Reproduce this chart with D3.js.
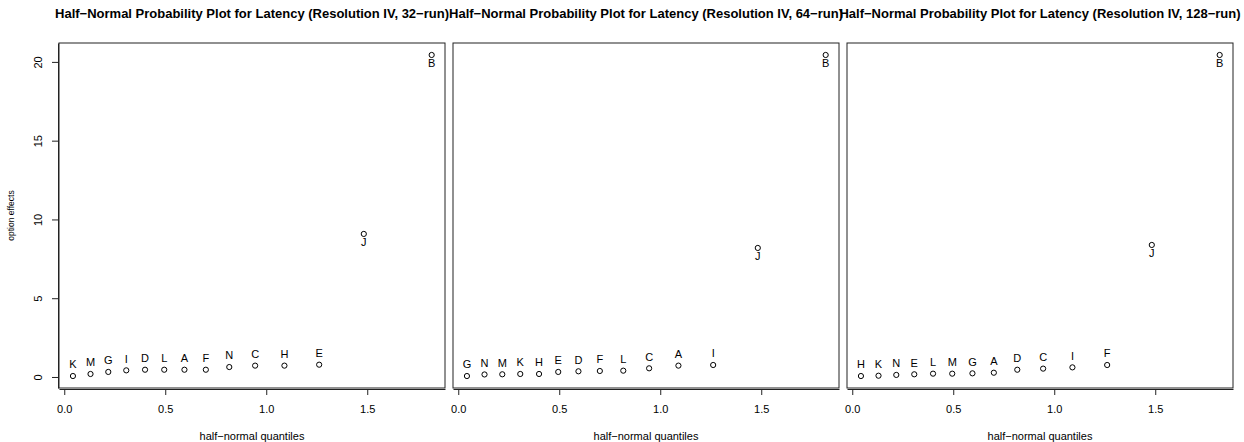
<!DOCTYPE html>
<html>
<head>
<meta charset="utf-8">
<script src="https://cdn.jsdelivr.net/npm/d3@7"></script>
<style>
  html, body { margin: 0; padding: 0; background: #fff; }
  svg { display: block; font-family: "Liberation Sans", Arial, Helvetica, sans-serif; }
</style>
</head>
<body>
<svg id="chart" width="1244" height="442"></svg>
<script>
// ---- data ----
const quantiles = [0.043, 0.130, 0.218, 0.307, 0.400, 0.495, 0.595, 0.701, 0.817, 0.945, 1.090, 1.262, 1.483, 1.819];

const titles = [
  "Half\u2212Normal Probability Plot for Latency (Resolution IV, 32\u2212run)",
  "Half\u2212Normal Probability Plot for Latency (Resolution IV, 64\u2212run)",
  "Half\u2212Normal Probability Plot for Latency (Resolution IV, 128\u2212run)"
];

const effects32 = ["K","M","G","I","D","L","A","F","N","C","H","E","J","B"];
const values32  = [0.06, 0.19, 0.32, 0.42, 0.46, 0.46, 0.46, 0.46, 0.63, 0.72, 0.72, 0.78, 9.08, 20.44];

const effects64 = ["G","N","M","K","H","E","D","F","L","C","A","I","J","B"];
const values64  = [0.06, 0.16, 0.17, 0.19, 0.19, 0.32, 0.36, 0.38, 0.40, 0.55, 0.72, 0.76, 8.19, 20.44];

const effects128 = ["H","K","N","E","L","M","G","A","D","C","I","F","J","B"];
const values128  = [0.06, 0.08, 0.13, 0.17, 0.21, 0.21, 0.23, 0.27, 0.46, 0.53, 0.61, 0.76, 8.38, 20.44];

const xTicks = [0, 0.5, 1.0, 1.5];
const yTicks = [0, 5, 10, 15, 20];

const xLabel = "half\u2212normal quantiles";
const yLabel = "option effects";

// ---- layout ----
const panels = [
  { title: titles[0], effects: effects32,  values: values32,  left: 59,  showY: true },
  { title: titles[1], effects: effects64,  values: values64,  left: 453, showY: false },
  { title: titles[2], effects: effects128, values: values128, left: 847, showY: false }
];
const boxW = 386, boxTop = 43, boxBottom = 388;

const svg = d3.select("#chart");

const y = d3.scaleLinear().domain([-0.70, 21.2]).range([boxBottom, boxTop]);

panels.forEach(p => {
  const x = d3.scaleLinear().domain([-0.026, 1.885]).range([p.left, p.left + boxW]);
  const g = svg.append("g");

  // title
  g.append("text")
    .attr("x", p.left + boxW / 2).attr("y", 18)
    .attr("text-anchor", "middle")
    .attr("font-weight", "bold").attr("font-size", 13)
    .attr("fill", "#000")
    .text(p.title);

  // box
  g.append("rect")
    .attr("x", p.left).attr("y", boxTop)
    .attr("width", boxW).attr("height", boxBottom - boxTop)
    .attr("fill", "none").attr("stroke", "#222").attr("stroke-width", 1);

  // x axis
  const xAxis = d3.axisBottom(x).tickValues(xTicks).tickSizeInner(6).tickSizeOuter(0).tickPadding(10)
    .tickFormat(d3.format(".1f"));
  const xg = g.append("g").attr("transform", `translate(0,${boxBottom + 1})`).call(xAxis);
  xg.select(".domain").attr("stroke", "#222");
  xg.selectAll(".tick line").attr("stroke", "#222");
  xg.selectAll(".tick text").attr("font-size", 11).attr("fill", "#000")
    .attr("font-family", "Liberation Sans, Arial, sans-serif");

  g.append("text")
    .attr("x", p.left + boxW / 2).attr("y", 440)
    .attr("text-anchor", "middle").attr("font-size", 11).attr("fill", "#000")
    .text(xLabel);

  // y axis
  if (p.showY) {
    const yAxis = d3.axisLeft(y).tickValues(yTicks).tickSizeInner(6).tickSizeOuter(0).tickFormat(d3.format("d"));
    const yg = g.append("g").attr("transform", `translate(${p.left - 1},0)`).call(yAxis);
    yg.select(".domain").attr("stroke", "#222");
    yg.selectAll(".tick line").attr("stroke", "#222");
    yg.selectAll(".tick text")
      .attr("font-size", 11).attr("fill", "#000")
      .attr("font-family", "Liberation Sans, Arial, sans-serif")
      .attr("text-anchor", "middle")
      .attr("x", 0).attr("dy", null).attr("y", 0)
      .attr("transform", "translate(-20,0) rotate(-90)")
      .attr("dominant-baseline", "central");

    g.append("text")
      .attr("transform", `translate(14,${(boxTop + boxBottom) / 2}) rotate(-90)`)
      .attr("text-anchor", "middle").attr("font-size", 8.5).attr("fill", "#000")
      .text(yLabel);
  }

  // points
  const data = p.values.map((v, i) => ({ q: quantiles[i], v: v, name: p.effects[i] }));
  g.selectAll("circle.pt").data(data).enter().append("circle")
    .attr("class", "pt")
    .attr("cx", d => x(d.q)).attr("cy", d => y(d.v))
    .attr("r", 2.6)
    .attr("fill", "none").attr("stroke", "#000").attr("stroke-width", 1);

  g.selectAll("text.lbl").data(data).enter().append("text")
    .attr("class", "lbl")
    .attr("x", d => x(d.q))
    .attr("y", d => d.v > 5 ? y(d.v) + 12 : y(d.v) - 7.7)
    .attr("text-anchor", "middle").attr("font-size", 11).attr("fill", "#000")
    .text(d => d.name);
});
</script>
</body>
</html>
